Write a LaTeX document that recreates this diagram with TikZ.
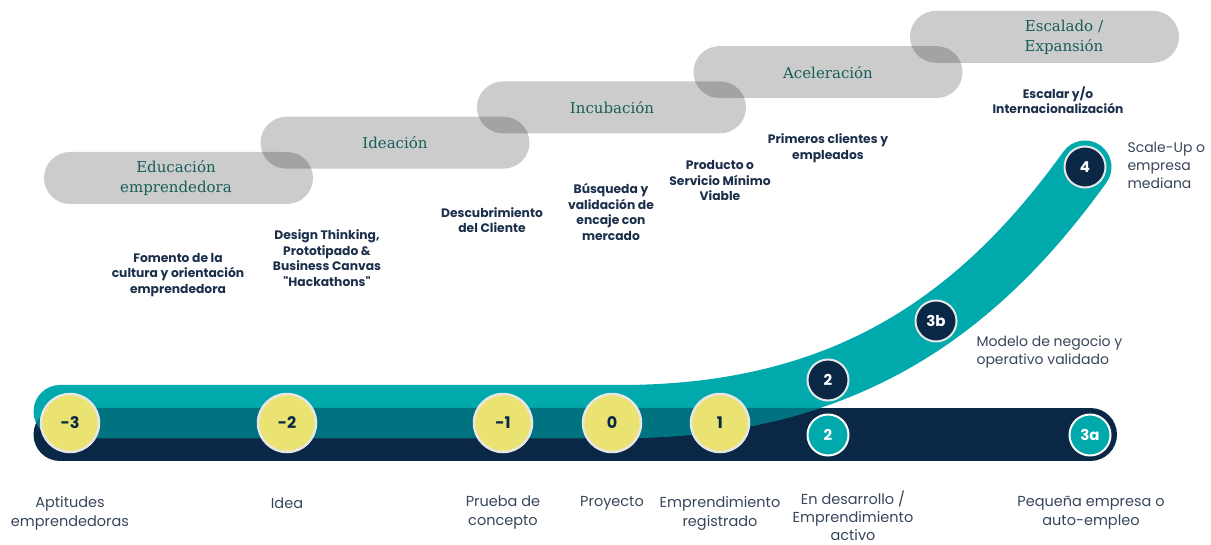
\documentclass[tikz,border=0pt]{standalone}
\usepackage{fontspec}
\setmainfont{Poppins}[Ligatures=TeXOff]
\newfontfamily\pillfont{DejaVu Serif}
\definecolor{tealc}{RGB}{0,169,172}
\definecolor{midc}{RGB}{0,114,128}
\definecolor{navyc}{RGB}{10,40,70}
\definecolor{yellowc}{RGB}{234,227,113}
\definecolor{rimc}{RGB}{230,230,230}
\definecolor{pilltext}{RGB}{24,94,88}
\definecolor{labelc}{RGB}{27,47,75}
\definecolor{plainc}{RGB}{55,70,90}
\tikzset{
  pill/.style={fill=black, fill opacity=0.2},
  pilllabel/.style={text=pilltext, align=center, font=\pillfont\fontsize{15}{20}\selectfont},
  boldlabel/.style={text=labelc, align=center, font=\bfseries\fontsize{12.3}{15.5}\selectfont},
  plainlabel/.style={text=plainc, align=center, font=\fontsize{14.5}{19}\selectfont},
  sidelabel/.style={text=plainc, align=left, anchor=west, font=\fontsize{14}{18}\selectfont},
  yellowdot/.style={circle, fill=yellowc, draw=rimc, line width=2.5pt, minimum size=58pt, inner sep=0pt, text=navyc, font=\bfseries\fontsize{16}{16}\selectfont},
  navydot/.style={circle, fill=navyc, draw=rimc, line width=2pt, minimum size=41pt, inner sep=0pt, text=white, font=\bfseries\fontsize{15}{15}\selectfont},
  tealdot/.style={circle, fill=tealc, draw=white, line width=2pt, minimum size=41pt, inner sep=0pt, text=white, font=\bfseries\fontsize{15}{15}\selectfont}
}
\begin{document}
\begin{tikzpicture}[x=1pt,y=-1pt]
\useasboundingbox (0,0) rectangle (1211,545);
% pills
\foreach \i in {0,...,4}{
  \fill[pill, rounded corners=26pt] ({44+216.5*\i},{152-35.3*\i}) rectangle ({313+216.5*\i},{204-35.3*\i});
}
\node[pilllabel] (p1) at (176,178) {Educación\\emprendedora};
\node[pilllabel] (p2) at (395,143) {Ideación};
\node[pilllabel] (p3) at (612,108) {Incubación};
\node[pilllabel] (p4) at (828,73) {Aceleración};
\node[pilllabel] (p5) at (1064,37) {Escalado /\\Expansión};
% bands
\draw[navyc, line width=53pt, line cap=round] (60,434.5) -- (1090.5,434.5);
\def\tealpath{(60,411.5) -- (620,411.5) .. controls (840,411.5) and (975,320) .. (1085,167)}
\draw[tealc, line width=53pt, line cap=round] \tealpath;
\begin{scope}
  \clip[rounded corners=26.5pt] (33.5,408) rectangle (1117,461);
  \draw[midc, line width=53pt, line cap=round] \tealpath;
\end{scope}
% circles
\node[yellowdot] (m3) at (70,423) {-3};
\node[yellowdot] (m2) at (287,423) {-2};
\node[yellowdot] (m1) at (503,423) {-1};
\node[yellowdot] (z0) at (612,423) {0};
\node[yellowdot] (o1) at (720,423) {1};
\node[navydot] (u2) at (828,380) {2};
\node[navydot] (b3) at (936,321) {3b};
\node[navydot] (f4) at (1085,167) {4};
\node[tealdot] (l2) at (828,435) {2};
\node[tealdot] (a3) at (1090,435) {3a};
% bold labels
\node[boldlabel] (t1) at (178,275) {Fomento de la\\cultura y orientación\\emprendedora};
\node[boldlabel] (t2) at (327,258) {Design Thinking,\\Prototipado \&\\Business Canvas\\"Hackathons"};
\node[boldlabel] (t3) at (492,220) {Descubrimiento\\del Cliente};
\node[boldlabel] (t4) at (611,212) {Búsqueda y\\validación de\\encaje con\\mercado};
\node[boldlabel] (t5) at (720,181) {Producto o\\Servicio Mínimo\\Viable};
\node[boldlabel] (t6) at (828,148) {Primeros clientes y\\empleados};
\node[boldlabel] (t7) at (1058,100) {Escalar y/o\\Internacionalización};
% side labels
\node[sidelabel] (s4) at (1124,165) {Scale-Up o\\empresa\\mediana};
\node[sidelabel] (s3) at (973,352) {Modelo de negocio y\\operativo validado};
% bottom labels
\node[plainlabel] (q1) at (70,513) {Aptitudes\\emprendedoras};
\node[plainlabel] (q2) at (287,503.5) {Idea};
\node[plainlabel] (q3) at (503,513) {Prueba de\\concepto};
\node[plainlabel] (q4) at (612,503.5) {Proyecto};
\node[plainlabel] (q5) at (720,513) {Emprendimiento\\registrado};
\node[plainlabel, inner sep=1pt, font=\fontsize{14.5}{18}\selectfont] (q6) at (853,516) {En desarrollo /\\Emprendimiento\\activo};
\node[plainlabel] (q7) at (1091,513) {Pequeña empresa o\\auto-empleo};
\end{tikzpicture}
\end{document}
